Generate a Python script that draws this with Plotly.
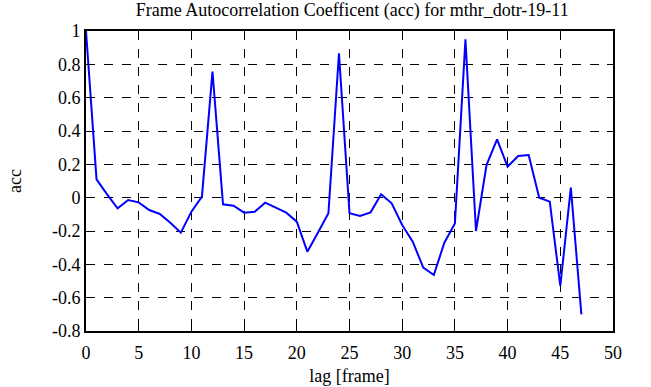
import plotly.graph_objects as go

lags = list(range(48))
acc = [1.0, 0.11, 0.02, -0.064, -0.014, -0.028, -0.074, -0.098, -0.15, -0.21,
       -0.084, 0.006, 0.756, -0.04, -0.048, -0.09, -0.084, -0.03, -0.06, -0.09,
       -0.144, -0.324, -0.21, -0.094, 0.866, -0.094, -0.11, -0.088, 0.02, -0.034,
       -0.164, -0.264, -0.42, -0.464, -0.27, -0.155, 0.95, -0.2, 0.196, 0.35,
       0.186, 0.25, 0.256, 0.0, -0.024, -0.53, 0.06, -0.70]
xticks = [0, 5, 10, 15, 20, 25, 30, 35, 40, 45, 50]
yticks = [-0.8, -0.6, -0.4, -0.2, 0, 0.2, 0.4, 0.6, 0.8, 1]
ytext = ["-0.8", "-0.6", "-0.4", "-0.2", "0", "0.2", "0.4", "0.6", "0.8", "1"]

fig = go.Figure(go.Scatter(x=lags, y=acc, mode="lines",
                           line=dict(color="#0000ff", width=2)))

font = dict(family="Liberation Serif, Times New Roman, serif", size=18, color="black")
axis_common = dict(showline=True, linecolor="black", linewidth=2, mirror="ticks",
                   ticks="inside", ticklen=6, tickcolor="black", tickwidth=1,
                   showgrid=True, gridcolor="black", griddash="dash", gridwidth=1,
                   zeroline=False, tickfont=font, automargin=False)

fig.update_layout(
    width=651, height=387, autosize=False,
    margin=dict(l=86, r=38, t=31, b=56),
    paper_bgcolor="white", plot_bgcolor="white",
    showlegend=False,
    font=font,
    title=dict(text="Frame Autocorrelation Coefficent (acc) for mthr_dotr-19-11",
               x=0.541, xanchor="center", y=0.974, yanchor="middle", font=font),
    xaxis=dict(range=[0, 50], tickvals=xticks, ticklabelstandoff=4,
               title=dict(text="lag [frame]", font=font, standoff=8),
               **axis_common),
    yaxis=dict(range=[-0.8, 1], tickvals=yticks, ticktext=ytext,
               title=dict(text="acc", font=font, standoff=26), **axis_common),
)

fig.write_html("out.html", config={"displayModeBar": False},
               post_script="document.body.style.margin='0';")
